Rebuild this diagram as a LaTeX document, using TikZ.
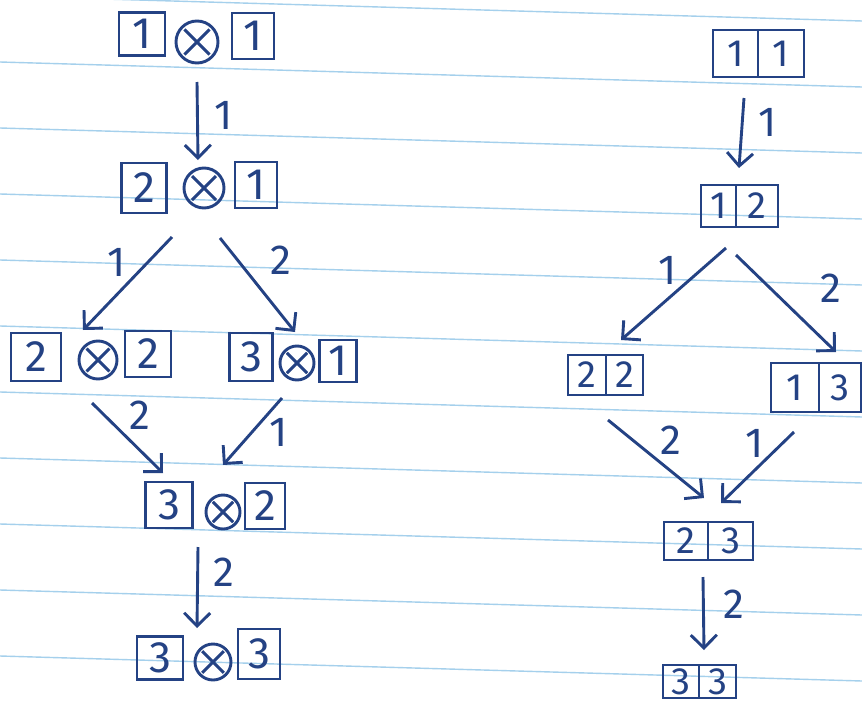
\documentclass[tikz,border=0pt]{standalone}
\usepackage{fontspec}
\setsansfont{Fira Sans}
\usetikzlibrary{arrows.meta}
\definecolor{ink}{RGB}{36,66,132}
\definecolor{rulecol}{RGB}{165,208,236}
\tikzset{
  cell/.style={draw=ink, line width=2.9pt, inner sep=0pt, text=ink,
    font=\sffamily\fontsize{44}{44}\selectfont},
  pcell/.style={cell, font=\sffamily\fontsize{38}{38}\selectfont},
  otim/.style={draw=ink, line width=2.9pt, circle, inner sep=0pt, minimum size=#1,
    path picture={\draw[ink, line width=2.9pt]
      ([shift={(-0.3*#1,-0.3*#1)}]path picture bounding box.center) -- ([shift={(0.3*#1,0.3*#1)}]path picture bounding box.center)
      ([shift={(-0.3*#1,0.3*#1)}]path picture bounding box.center) -- ([shift={(0.3*#1,-0.3*#1)}]path picture bounding box.center);}},
  arr/.style={draw=ink, line width=2.9pt, -{Straight Barb[length=13pt,width=26pt,line width=2.9pt]}},
  lbl/.style={text=ink, inner sep=0pt, font=\sffamily\fontsize{42}{42}\selectfont},
  rulel/.style={draw=rulecol, line width=1.4pt}
}
\begin{document}
\begin{tikzpicture}[x=1pt,y=-1pt]
\useasboundingbox (0,0) rectangle (862,707);
\clip (0,0) rectangle (862,707);
\fill[white] (0,0) rectangle (862,707);
\foreach \k in {0,...,11} \draw[rulel] (0,{-4+66*\k}) -- (862,{21+66*\k});

% left column
\node[cell, minimum width=46pt, minimum height=43pt] (L1a) at (142,34) {1};
\node[otim=42pt] (L1o) at (197,42) {};
\node[cell, minimum width=42pt, minimum height=46pt] (L1b) at (253,36) {1};

\node[cell, minimum width=45pt, minimum height=50pt] (L2a) at (144,188) {2};
\node[otim=40pt] (L2o) at (204,188) {};
\node[cell, minimum width=42pt, minimum height=46pt] (L2b) at (256,185) {1};

\node[cell, minimum width=50pt, minimum height=48pt] (L3a) at (36,357) {2};
\node[otim=38pt] (L3o) at (98,360) {};
\node[cell, minimum width=46pt, minimum height=46pt] (L3b) at (148,354) {2};

\node[cell, minimum width=43pt, minimum height=48pt] (L4a) at (251,357) {3};
\node[otim=34pt] (L4o) at (297,363) {};
\node[cell, minimum width=37pt, minimum height=42pt] (L4b) at (338,361) {1};

\node[cell, minimum width=47pt, minimum height=46pt] (L5a) at (169,505) {3};
\node[otim=34pt] (L5o) at (223,512) {};
\node[cell, minimum width=40pt, minimum height=46pt] (L5b) at (265,506) {2};

\node[cell, minimum width=46pt, minimum height=43pt] (L6a) at (160,658) {3};
\node[otim=36pt] (L6o) at (213,662) {};
\node[cell, minimum width=42pt, minimum height=50pt] (L6b) at (259,654) {3};

\draw[arr] ([shift={(0,40)}]L1o.center) -- ([shift={(-6,-28)}]L2o.center);
\draw[arr] ([shift={(-32,49)}]L2o.center) -- ([shift={(-15,-30)}]L3o.center);
\draw[arr] ([shift={(16,50)}]L2o.center) -- ([shift={(-2,-31)}]L4o.center);
\draw[arr] ([shift={(-6,43)}]L3o.center) -- ([shift={(-6,-32)}]L5a.center);
\draw[arr] ([shift={(-15,35)}]L4o.center) -- ([shift={(0,-47)}]L5o.center);
\draw[arr] ([shift={(-25,35)}]L5o.center) -- ([shift={(-16,-34)}]L6o.center);

\node[lbl] (t1) at (224,115) {1};
\node[lbl] (t2) at (117,262) {1};
\node[lbl] (t3) at (281,260) {2};
\node[lbl] (t4) at (140,415) {2};
\node[lbl] (t5) at (279,432) {1};
\node[lbl] (t6) at (224,572) {2};

% right column
\node[pcell, minimum width=45pt, minimum height=47pt] (P1a) at (735.5,53.5) {1};
\node[pcell, minimum width=46pt, minimum height=47pt] (P1b) at (781,53.5) {1};
\node[pcell, minimum width=35pt, minimum height=42pt] (P2a) at (718.5,206) {1};
\node[pcell, minimum width=42pt, minimum height=42pt] (P2b) at (757,206) {2};
\node[pcell, minimum width=38pt, minimum height=40pt] (P3a) at (587,375) {2};
\node[pcell, minimum width=37pt, minimum height=40pt] (P3b) at (624.5,375) {2};
\node[pcell, minimum width=48pt, minimum height=49pt] (P4a) at (795,387.5) {1};
\node[pcell, minimum width=42pt, minimum height=49pt] (P4b) at (840,387.5) {3};
\node[pcell, minimum width=44pt, minimum height=38pt] (P5a) at (686,541) {2};
\node[pcell, minimum width=45pt, minimum height=38pt] (P5b) at (730.5,541) {3};
\node[pcell, minimum width=36pt, minimum height=33pt] (P6a) at (681,681.5) {3};
\node[pcell, minimum width=37pt, minimum height=33pt] (P6b) at (717.5,681.5) {3};

\draw[arr] ([shift={(8.5,44.5)}]P1a.center) -- ([shift={(20.5,-38)}]P2a.center);
\draw[arr] ([shift={(7.5,42)}]P2a.center) -- ([shift={(-3.5,-35)}]P3b.center);
\draw[arr] ([shift={(-21,49)}]P2b.center) -- ([shift={(-4,-35.5)}]P4b.center);
\draw[arr] ([shift={(-16.5,45)}]P3b.center) -- ([shift={(18,-43)}]P5a.center);
\draw[arr] ([shift={(-1,44.5)}]P4a.center) -- ([shift={(-9.5,-38)}]P5b.center);
\draw[arr] ([shift={(17,36)}]P5a.center) -- ([shift={(23,-31.5)}]P6a.center);

\node[lbl] (u1) at (768,122) {1};
\node[lbl] (u2) at (668,270) {1};
\node[lbl] (u3) at (831,288) {2};
\node[lbl] (u4) at (671,440) {2};
\node[lbl] (u5) at (755,443) {1};
\node[lbl] (u6) at (734,604) {2};
\end{tikzpicture}
\end{document}
